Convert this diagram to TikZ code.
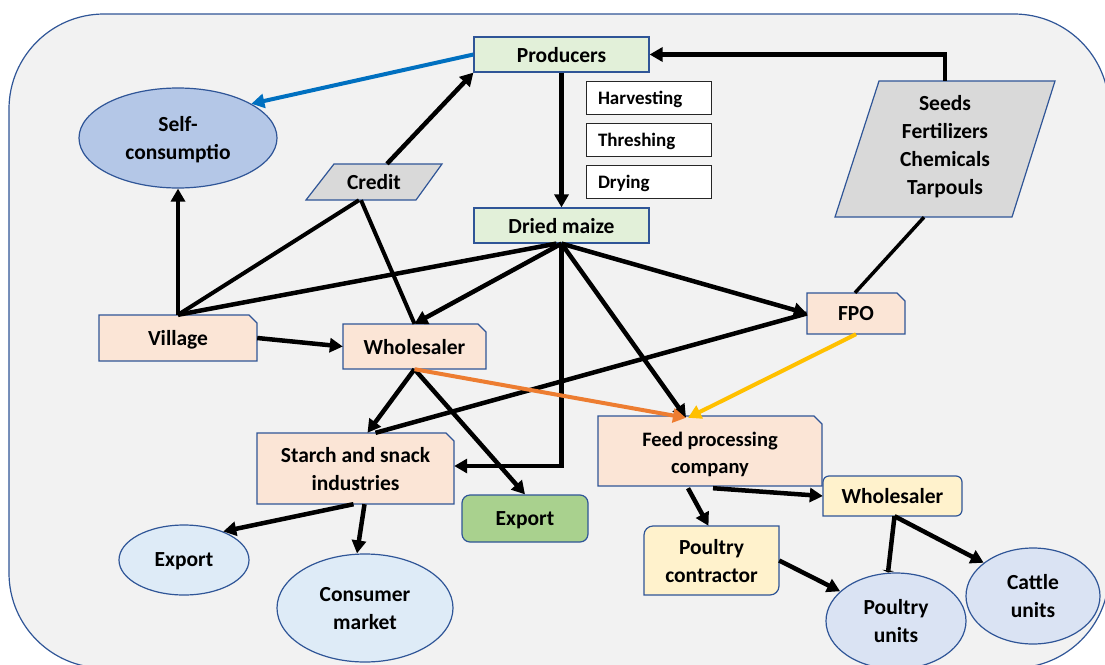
\documentclass[tikz,border=0pt]{standalone}
\usepackage{fontspec}
\setmainfont{Carlito}
\usetikzlibrary{arrows.meta,shapes.geometric,calc}
\definecolor{bgc}{HTML}{F2F2F2}
\definecolor{bordc}{HTML}{2F5597}
\definecolor{greenc}{HTML}{E2F0D9}
\definecolor{pinkc}{HTML}{FBE5D6}
\definecolor{greyc}{HTML}{D9D9D9}
\definecolor{selfc}{HTML}{B4C7E7}
\definecolor{lbluec}{HTML}{DEEBF7}
\definecolor{ubluec}{HTML}{DAE3F3}
\definecolor{yellowc}{HTML}{FFF2CC}
\definecolor{expgc}{HTML}{A9D18E}
\definecolor{bluearr}{HTML}{0070C0}
\definecolor{orangearr}{HTML}{ED7D31}
\definecolor{yellowarr}{HTML}{FFC000}
\newcommand\mysnip[5]{\filldraw[fill=#5, draw=bordc, line width=1.2pt] (#1,#2) -- ({#3-8},#2) -- (#3,{#2+8}) -- (#3,#4) -- (#1,#4) -- cycle;}
\tikzset{
  nd/.style={font=\fontsize{21.5}{28}\selectfont\bfseries, align=center, inner sep=0pt, text=black, rectangle, text depth=0pt},
  hb/.style={nd, font=\fontsize{19}{23}\selectfont\bfseries, draw=black!85, line width=0.9pt, fill=white, minimum width=125pt, minimum height=33pt, text width=101pt, align=left},
  elp/.style={nd, ellipse, draw=bordc, line width=1.2pt},
  shp/.style={draw=bordc, line width=1.2pt},
  ln/.style={line width=4.5pt, black},
  arr/.style={ln, -{Triangle[length=13pt,width=14pt]}},
}
\begin{document}
\begin{tikzpicture}[x=1pt,y=-1pt]
\useasboundingbox (0,0) rectangle (1105,664);
% background
\draw[draw=bordc, line width=1.2pt, fill=bgc, rounded corners=95pt] (9,14) rectangle (1109,668);

% top row
\node[nd, fill=greenc, shp, minimum width=175pt, minimum height=35pt] (prod) at (561.5,54.5) {Producers};
\node[hb] (harv) at (648.5,97.5) {Harvesting};
\node[hb] (thresh) at (648.5,139.5) {Threshing};
\node[hb] (dry) at (648.5,182) {Drying};
\node[nd, fill=greenc, shp, minimum width=175pt, minimum height=35pt] (dried) at (561.5,225.5) {Dried maize};

\node[elp, fill=selfc, minimum width=198pt, minimum height=100pt] (self) at (178,138) {Self-\\consumptio};

\filldraw[fill=greyc, shp] (306,200) -- (334,164) -- (442,164) -- (416,200) -- cycle;
\node[nd, minimum width=108pt, minimum height=36pt] (credit) at (374,182) {Credit};

\filldraw[fill=greyc, shp] (835,217) -- (879,81) -- (1055,81) -- (1012,217) -- cycle;
\node[nd, minimum width=130pt, minimum height=128pt] (seeds) at (945,145) {Seeds\\Fertilizers\\Chemicals\\Tarpouls};

% middle
\mysnip{807}{293}{905}{334}{pinkc}
\node[nd, minimum width=98pt, minimum height=41pt] (fpo) at (856,313.5) {FPO};
\mysnip{99}{315}{257}{361}{pinkc}
\node[nd, minimum width=158pt, minimum height=46pt] (village) at (178,338) {Village};
\mysnip{343}{324}{486}{369}{pinkc}
\node[nd, minimum width=143pt, minimum height=45pt] (whole1) at (414.5,346.5) {Wholesaler};
\mysnip{257}{433}{454}{504}{pinkc}
\node[nd, minimum width=197pt, minimum height=71pt] (starch) at (355.5,468.5) {Starch and snack\\industries};
\mysnip{598}{416}{822}{486}{pinkc}
\node[nd, font=\fontsize{20.5}{27}\selectfont\bfseries, minimum width=224pt, minimum height=70pt] (feed) at (710,453) {Feed processing\\company};

% bottom
\node[nd, fill=expgc, shp, rounded corners=8pt, minimum width=126pt, minimum height=47pt] (export) at (525,518.5) {Export};
\filldraw[fill=yellowc, shp] (823,516) [rounded corners=6pt] -- (823,476) -- (962,476) -- (962,516) [sharp corners] -- cycle;
\node[nd, minimum width=139pt, minimum height=40pt] (whole2) at (892.5,496) {Wholesaler};
\filldraw[fill=yellowc, shp] (644,595) [rounded corners=9pt] -- (644,526) [sharp corners] -- (779,526) [rounded corners=9pt] -- (779,595) [sharp corners] -- cycle;
\node[nd, minimum width=135pt, minimum height=69pt] (pcont) at (711.5,560.5) {Poultry\\contractor};
\node[elp, fill=lbluec, minimum width=130pt, minimum height=70pt] (expl) at (184,560) {Export};
\node[elp, fill=lbluec, minimum width=176pt, minimum height=108pt] (cons) at (365,608) {Consumer\\market};
\node[elp, fill=ubluec, minimum width=140pt, minimum height=96pt] (punits) at (896,621) {Poultry\\units};
\node[elp, fill=ubluec, minimum width=134pt, minimum height=96pt] (cunits) at (1033,596) {Cattle\\units};

% connectors
\draw[line width=4pt, bluearr, -{Triangle[length=13pt,width=14pt]}] (prod.west) -- (self.25);
\draw[arr] (seeds.north) |- (prod.east);
\draw[arr] (prod.south) -- (dried.north);
\draw[arr] ([xshift=13pt]credit.north) -- (prod.south west);
\draw[arr] (village.north) -- (self.south);
\draw[ln, line width=4pt] (village.north) -- ([xshift=-15pt]credit.south);
\draw[ln] (village.north) -- ([xshift=-5pt]dried.south);
\draw[ln, line width=4pt] ([xshift=-13pt]credit.south) -- (whole1.north);
\draw[arr] (dried.south) -- (whole1.north);
\draw[arr] (dried.south) -- (fpo.west);
\draw[arr] (dried.south) -- ([xshift=-24pt]feed.north);
\draw[arr] (dried.south) |- ([yshift=2.5pt]starch.east);
\draw[arr] (village.east) -- (whole1.west);
\draw[ln] (fpo.west) -- ([xshift=20pt]starch.north);
\draw[arr] (whole1.south) -- ([xshift=12pt]starch.north);
\draw[arr] (whole1.south) -- (export.north);
\draw[line width=4pt, orangearr, -{Triangle[length=13pt,width=14pt]}] (whole1.south) -- ([xshift=-24pt]feed.north);
\draw[line width=4pt, yellowarr, -{Triangle[length=13pt,width=14pt]}] (fpo.south) -- ([xshift=-22pt]feed.north);
\draw[ln, line width=3.5pt] ([xshift=-21pt,yshift=-8pt]seeds.south) -- ([xshift=-1pt]fpo.north);
\draw[arr] ([xshift=3pt]feed.south) -- (whole2.west);
\draw[arr] ([xshift=-22pt]feed.south) -- ([xshift=-3pt]pcont.north);
\draw[arr] (pcont.east) -- (punits.152);
\draw[ln, -{Triangle[length=2pt,width=12pt]}] ([xshift=2pt]whole2.south) -- ([xshift=-8pt]punits.north);
\draw[arr] ([xshift=2pt]whole2.south) -- (cunits.146);
\draw[arr] ([xshift=-2pt]starch.south) -- (expl.36);
\draw[arr] ([xshift=9pt]starch.south) -- ([xshift=-8pt]cons.north);
\end{tikzpicture}
\end{document}
